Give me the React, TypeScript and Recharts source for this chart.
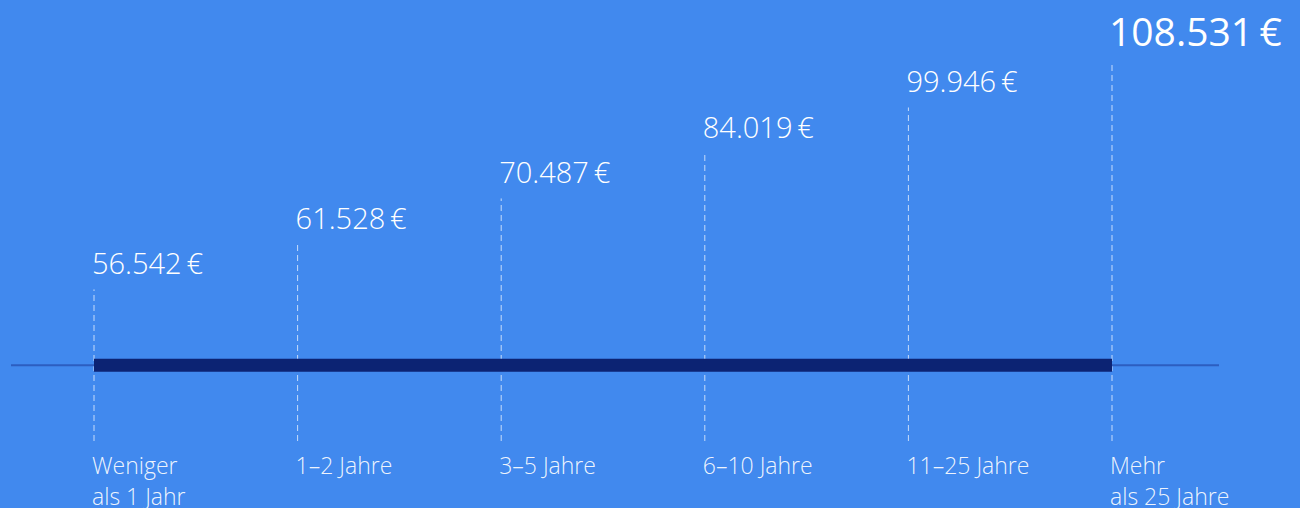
import { ComposedChart, Line, LabelList, ReferenceLine, XAxis, YAxis } from "recharts";

const kategorien = ["Weniger\nals 1 Jahr", "1–2 Jahre", "3–5 Jahre", "6–10 Jahre", "11–25 Jahre", "Mehr\nals 25 Jahre"];
const gehalt = [56542, 61528, 70487, 84019, 99946, 108531];
// Höhe der gestrichelten Linien (relative Stufen)
const stufe = [5, 8, 11, 14, 17, 20];

const data = kategorien.map((kategorie, i) => ({ kategorie, gehalt: gehalt[i], stufe: stufe[i] }));

const HINTERGRUND = "#4189ee";
const SCHRIFT = "'Open Sans', 'Noto Sans', sans-serif";

const formatEuro = (v: number) => String(v).replace(/\B(?=(\d{3})+(?!\d))/g, ".") + "\u2009€";

const KategorieTick = (props: any) => {
  const { x, y, payload } = props;
  const zeilen = String(payload.value).split("\n");
  return (
    <text x={x - 2} y={y} fill="rgba(255,255,255,0.92)" fontSize={23} fontWeight={300} fontFamily={SCHRIFT}>
      {zeilen.map((z, i) => (
        <tspan key={i} x={x - 2} dy={i === 0 ? 33 : 31}>
          {z}
        </tspan>
      ))}
    </text>
  );
};

const WertLabel = (props: any) => {
  const { x, y, index } = props;
  const gross = index === gehalt.length - 1;
  return (
    <text
      x={x - (gross ? 3 : 2)}
      y={y - (gross ? 16 : 15)}
      fill="#ffffff"
      fontSize={gross ? 39 : 29}
      fontWeight={gross ? 400 : 300}
      fontFamily={SCHRIFT}
    >
      {formatEuro(gehalt[index])}
    </text>
  );
};

const App = () => {
  return (
    <div style={{ position: "fixed", left: 0, top: 0, width: 1300, height: 508, background: HINTERGRUND }}>
      <ComposedChart width={1300} height={508} data={data} margin={{ top: 62, right: 81, bottom: 7, left: 11 }}>
        <XAxis
          dataKey="kategorie"
          height={60}
          padding={{ left: 83, right: 107 }}
          axisLine={false}
          tickLine={false}
          tickSize={0}
          tickMargin={0}
          interval={0}
          tick={<KategorieTick />}
        />
        <YAxis type="number" domain={[-5, 20]} hide />
        {data.map((d) => (
          <ReferenceLine
            key={d.kategorie}
            segment={[
              { x: d.kategorie, y: -5 },
              { x: d.kategorie, y: d.stufe },
            ]}
            stroke="rgba(255,255,255,0.7)"
            strokeWidth={1}
            strokeDasharray="6 4"
          />
        ))}
        <ReferenceLine y={0} stroke="#2c5ec0" strokeWidth={2} />
        <ReferenceLine
          segment={[
            { x: kategorien[0], y: 0 },
            { x: kategorien[kategorien.length - 1], y: 0 },
          ]}
          stroke="#0c2373"
          strokeWidth={13}
        />
        <Line dataKey="stufe" stroke="none" dot={false} activeDot={false} isAnimationActive={false}>
          <LabelList dataKey="gehalt" content={<WertLabel />} />
        </Line>
      </ComposedChart>
    </div>
  );
};

export default App;
